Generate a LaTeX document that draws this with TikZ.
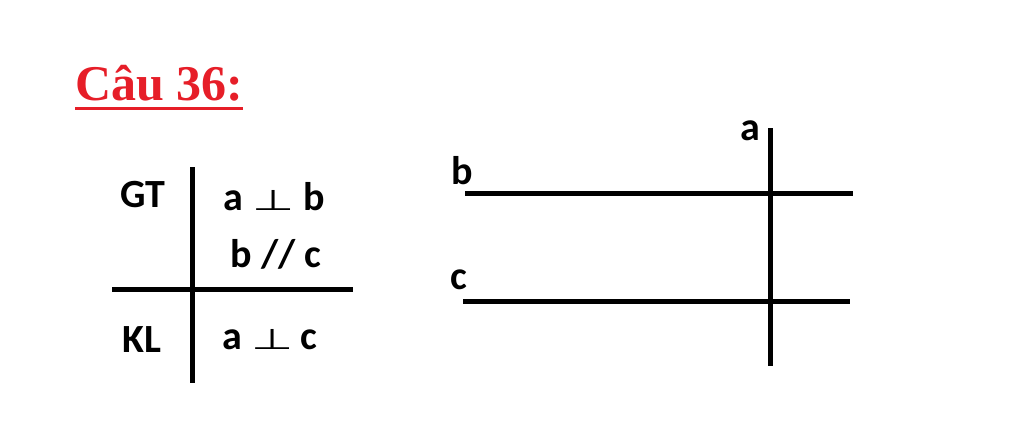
\documentclass[tikz,border=0pt]{standalone}
\usepackage{fontspec}
\setmainfont{Liberation Serif}
\newfontfamily\calib{Carlito}
\newfontfamily\symf{DejaVu Sans}
\usepackage{tikz}
\definecolor{titlered}{RGB}{230, 30, 40}
\newcommand{\perpsym}{\scalebox{1.1}[0.65]{\symf\mdseries\fontsize{44}{44}\selectfont ⊥}}

\begin{document}
\begin{tikzpicture}[x=1pt, y=-1pt]
\tikzset{
    lbl/.style={inner sep=0pt, font=\calib\bfseries\fontsize{40}{44}\selectfont},
    thickline/.style={line width=5pt}
}
\useasboundingbox (0,0) rectangle (1024,426);

% Title
\node[inner sep=0pt, anchor=base west, titlered, font=\bfseries\fontsize{50}{54}\selectfont] (title) at (75,100) {Câu 36:};
\draw[titlered, line width=3pt] ([yshift=-8pt]title.base west) -- ([yshift=-8pt]title.base east);

% GT / KL table
\coordinate (vtop) at (192,167);
\coordinate (vbot) at (192,383);
\coordinate (hleft) at (112,289);
\coordinate (hright) at (353,289);
\draw[thickline] (vtop) -- (vbot);
\draw[thickline] (hleft) -- (hright);
\node[lbl] (gt) at (143,195) {GT};
\node[lbl] (kl) at (142,340) {KL};
\node[lbl] (hyp1) at (274,197) {a \perpsym\ b};
\node[lbl] (hyp2) at (276,254) {b // c};
\node[lbl] (concl) at (270,340) {a \perpsym\,c};

% Lines a, b, c
\coordinate (b1) at (465,193);
\coordinate (b2) at (853,193);
\coordinate (c1) at (463,301);
\coordinate (c2) at (850,301);
\coordinate (a1) at (770,128);
\coordinate (a2) at (770,366);
\draw[thickline] (b1) -- (b2);
\draw[thickline] (c1) -- (c2);
\draw[thickline] (a1) -- (a2);
\node[lbl] (la) at (750,131) {a};
\node[lbl] (lb) at (462,171) {b};
\node[lbl] (lc) at (459,280) {c};
\end{tikzpicture}
\end{document}
